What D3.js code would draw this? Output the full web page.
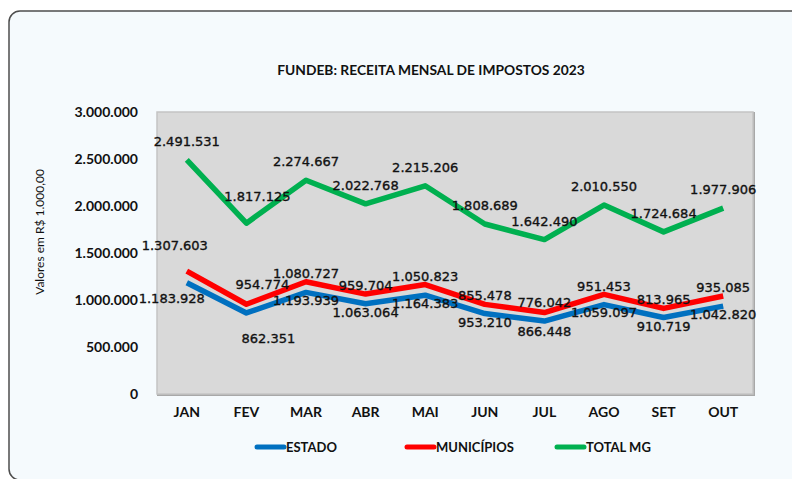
<!DOCTYPE html>
<html>
<head>
<meta charset="utf-8">
<script src="https://cdn.jsdelivr.net/npm/d3@7"></script>
<style>
  body { margin: 0; background: #fff; }
  svg { display: block; }
</style>
</head>
<body>
<svg width="792" height="479"></svg>
<script>
const svg = d3.select("svg");

// Values in R$ 1.000,00
const months = ["JAN", "FEV", "MAR", "ABR", "MAI", "JUN", "JUL", "AGO", "SET", "OUT"];
const estado = [1183928, 862351, 1080727, 959704, 1050823, 855478, 776042, 951453, 813965, 935085];
const municipios = [1307603, 954774, 1193939, 1063064, 1164383, 953210, 866448, 1059097, 910719, 1042820];
const totalMG = [2491531, 1817125, 2274667, 2022768, 2215206, 1808689, 1642490, 2010550, 1724684, 1977906];
const yTicks = [0, 500000, 1000000, 1500000, 2000000, 2500000, 3000000];

const br = d3.formatLocale({ decimal: ",", thousands: ".", grouping: [3], currency: ["R$", ""] });
const fmt = br.format(",d");

const margin = { top: 112, right: 39, bottom: 85, left: 157 };
const width = 792 - margin.left - margin.right;
const height = 479 - margin.top - margin.bottom;

// outer card
svg.append("rect")
    .attr("x", 9).attr("y", 11)
    .attr("width", 820).attr("height", 469)
    .attr("rx", 11)
    .attr("fill", "#f5fafd")
    .attr("stroke", "#4d4d4d")
    .attr("stroke-width", 1.5);

svg.append("text")
    .attr("x", 431).attr("y", 75)
    .attr("text-anchor", "middle")
    .style("font-family", "Lato")
    .style("font-weight", "bold")
    .style("font-size", "13.8px")
    .attr("fill", "#111")
    .text("FUNDEB: RECEITA MENSAL DE IMPOSTOS 2023");

svg.append("text")
    .attr("transform", "translate(44,232) rotate(-90)")
    .attr("text-anchor", "middle")
    .style("font-family", "Lato")
    .style("font-size", "12px")
    .attr("fill", "#111")
    .text("Valores em R$ 1.000,00");

const chart = svg.append("g")
    .attr("transform", `translate(${margin.left},${margin.top})`);

const x = d3.scaleBand().domain(months).range([0, width]);
const y = d3.scaleLinear().domain([0, 3000000]).range([height, 0]);
const cx = d => x(d) + x.bandwidth() / 2;

// plot area with a slight shadow
chart.append("rect")
    .attr("x", 1).attr("y", 1)
    .attr("width", width).attr("height", height)
    .attr("fill", "none")
    .attr("stroke", "#a8a8a8")
    .attr("stroke-width", 2);
chart.append("rect")
    .attr("width", width).attr("height", height)
    .attr("fill", "#d9d9d9")
    .attr("stroke", "#c4c4c4")
    .attr("stroke-width", 1.5);

// axes
const yAxis = chart.append("g")
    .call(d3.axisLeft(y).tickValues(yTicks).tickFormat(fmt).tickSize(0).tickPadding(19));
const xAxis = chart.append("g")
    .attr("transform", `translate(0,${height})`)
    .call(d3.axisBottom(x).tickSize(0).tickPadding(13));
[yAxis, xAxis].forEach(a => {
    a.select(".domain").remove();
    a.selectAll("text")
        .style("font-family", "Lato")
        .style("font-weight", "bold")
        .style("font-size", "14px")
        .attr("fill", "#111");
});

const series = [
    { name: "ESTADO", values: estado, color: "#0070c0" },
    { name: "MUNICÍPIOS", values: municipios, color: "#ff0000" },
    { name: "TOTAL MG", values: totalMG, color: "#00b050" }
];

const line = d3.line()
    .x((d, i) => cx(months[i]))
    .y(d => y(d));

chart.selectAll(".series")
    .data(series)
    .enter().append("path")
    .attr("class", "series")
    .attr("d", s => line(s.values))
    .attr("fill", "none")
    .attr("stroke", s => s.color)
    .attr("stroke-width", 5.5)
    .attr("stroke-linejoin", "round");

// label placement: -1 above the point, 1 below; manual nudges where Excel labels were dragged
const labelSide = {
    "ESTADO": [1, 1, -1, -1, -1, -1, -1, -1, -1, -1],
    "MUNICÍPIOS": [-1, -1, 1, 1, 1, 1, 1, 1, 1, 1],
    "TOTAL MG": [-1, -1, -1, -1, -1, -1, -1, -1, -1, -1]
};
const nudge = {
    "ESTADO-0": [-15, -3], "ESTADO-1": [22, 7],
    "MUNICÍPIOS-0": [-12, -7], "MUNICÍPIOS-1": [16, -1],
    "TOTAL MG-1": [11, -8]
};

series.forEach(s => {
    chart.selectAll(null)
        .data(s.values)
        .enter().append("text")
        .attr("x", (d, i) => cx(months[i]) + (nudge[s.name + "-" + i] || [0, 0])[0])
        .attr("y", (d, i) => y(d) + labelSide[s.name][i] * 18.5 + (nudge[s.name + "-" + i] || [0, 0])[1])
        .attr("dy", "0.35em")
        .attr("text-anchor", "middle")
        .style("font-family", "DejaVu Sans")
        .style("font-size", "13px")
        .attr("fill", "#111")
        .attr("stroke", "#111")
        .attr("stroke-width", 0.35)
        .text(d => fmt(d));
});

// legend
const legendX = [255, 405, 555];
const legend = svg.selectAll(".legend")
    .data(series)
    .enter().append("g")
    .attr("class", "legend")
    .attr("transform", (s, i) => `translate(${legendX[i]},447)`);
legend.append("line")
    .attr("x1", 2).attr("x2", 29)
    .attr("stroke", s => s.color)
    .attr("stroke-width", 5)
    .attr("stroke-linecap", "round");
legend.append("text")
    .attr("x", 31).attr("dy", "0.35em")
    .style("font-family", "Lato")
    .style("font-weight", "bold")
    .style("font-size", "13px")
    .attr("fill", "#111")
    .text(s => s.name);
</script>
</body>
</html>
